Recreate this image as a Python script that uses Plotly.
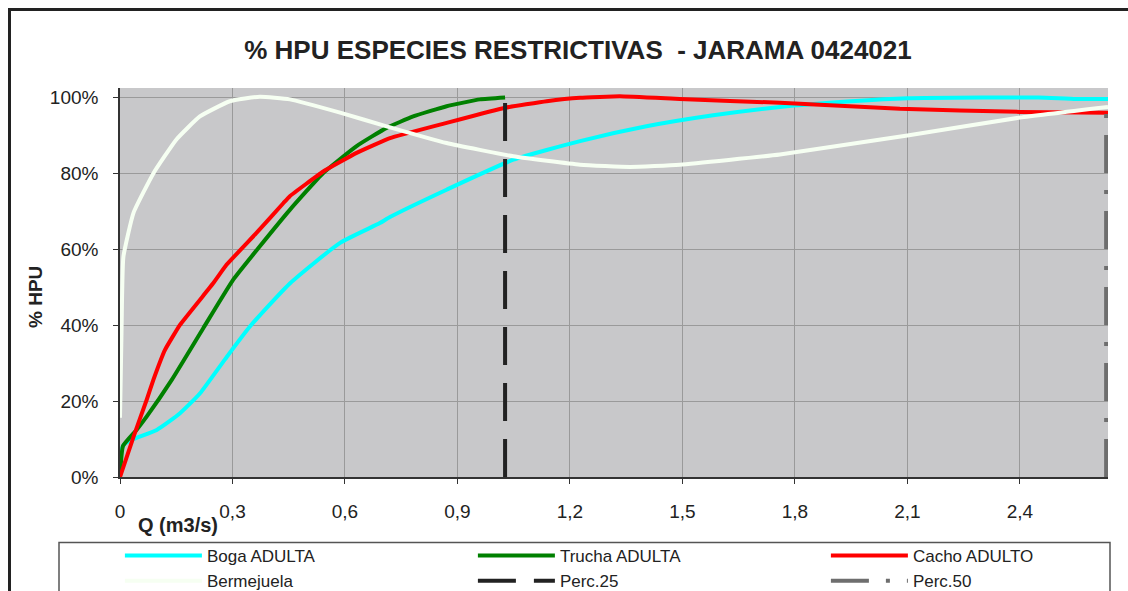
import plotly.graph_objects as go

# ---- data ----
boga_q = [0, 0.01, 0.036, 0.098, 0.16, 0.213, 0.28, 0.347, 0.453, 0.587, 0.693, 0.72, 0.871, 1.049, 1.227, 1.404, 1.582, 1.76, 1.95, 2.1, 2.3, 2.45, 2.55, 2.635]
boga_hpu = [6, 8.5, 10, 12.4, 16.8, 22, 31, 39.7, 51, 61.7, 66.9, 68.5, 75.7, 83.6, 88.5, 92.4, 95.3, 97.5, 99, 99.8, 100, 100, 99.6, 99.6]

trucha_q = [0, 0.008, 0.044, 0.071, 0.138, 0.222, 0.302, 0.373, 0.453, 0.542, 0.631, 0.711, 0.782, 0.871, 0.96, 1.027]
trucha_hpu = [0, 8.2, 12.4, 15.9, 25.6, 39.2, 52, 60.8, 70.4, 80.1, 87.2, 92, 95, 97.7, 99.5, 100]

cacho_q = [0, 0.036, 0.071, 0.089, 0.12, 0.16, 0.249, 0.284, 0.364, 0.436, 0.453, 0.542, 0.631, 0.72, 0.871, 1.027, 1.138, 1.227, 1.333, 1.493, 1.76, 2.08, 2.4, 2.635]
cacho_hpu = [0, 10.6, 20.3, 25.6, 33.5, 40.1, 51.1, 55.9, 64.3, 72.2, 74, 80.5, 85.4, 89.3, 93.3, 97.3, 99, 99.9, 100.3, 99.6, 98.6, 97, 96.2, 96]

bermejuela_q = [0, 0.004, 0.009, 0.036, 0.089, 0.151, 0.213, 0.293, 0.373, 0.453, 0.587, 0.711, 0.871, 1.049, 1.227, 1.36, 1.493, 1.76, 2.1, 2.4, 2.635]
bermejuela_hpu = [15.6, 38, 58, 69.6, 80, 89, 95, 99, 100.2, 99.5, 96, 92.4, 88, 84.5, 82.3, 81.7, 82.3, 85, 90, 94.7, 97.5]

perc25_q = [1.027, 1.027]
perc50_q = [2.63, 2.63]
perc_hpu = [0, 100]

x_tickvals = [0, 0.3, 0.6, 0.9, 1.2, 1.5, 1.8, 2.1, 2.4]
x_ticktext = ["0", "0,3", "0,6", "0,9", "1,2", "1,5", "1,8", "2,1", "2,4"]
y_tickvals = [0, 20, 40, 60, 80, 100]
y_ticktext = ["0%", "20%", "40%", "60%", "80%", "100%"]

FONT = "Liberation Sans, Arial, sans-serif"
TXT = "#222222"

W, H = 1128, 591
L, R, T, B = 120, 20, 88, 114
PW, PH = W - L - R, H - T - B


def px_x(p):
    return (p - L) / PW


def px_y(p):
    return (H - B - p) / PH


fig = go.Figure()
fig.add_trace(go.Scatter(x=boga_q, y=boga_hpu, name="Boga ADULTA", mode="lines",
                         line=dict(color="#00FFFF", width=4, shape="spline", smoothing=0.5)))
fig.add_trace(go.Scatter(x=trucha_q, y=trucha_hpu, name="Trucha ADULTA", mode="lines",
                         line=dict(color="#008000", width=4, shape="spline", smoothing=0.4)))
fig.add_trace(go.Scatter(x=cacho_q, y=cacho_hpu, name="Cacho ADULTO", mode="lines",
                         line=dict(color="#FF0000", width=4, shape="spline", smoothing=0.3)))
fig.add_trace(go.Scatter(x=bermejuela_q, y=bermejuela_hpu, name="Bermejuela", mode="lines",
                         line=dict(color="#F6FFF2", width=4, shape="spline", smoothing=0.4)))
fig.add_trace(go.Scatter(x=perc25_q, y=perc_hpu, name="Perc.25", mode="lines",
                         line=dict(color="#222222", width=4, dash="38px,18px")))
fig.add_trace(go.Scatter(x=perc50_q, y=perc_hpu, name="Perc.50", mode="lines",
                         line=dict(color="#6E6E6E", width=4, dash="38px,17px,4px,17px")))

fig.update_layout(
    width=W, height=H,
    margin=dict(l=L, r=R, t=T, b=B, autoexpand=False),
    paper_bgcolor="white",
    plot_bgcolor="#C8C8CA",
    font=dict(family=FONT, size=19, color=TXT),
    title=dict(text="<b>% HPU ESPECIES RESTRICTIVAS  - JARAMA 0424021</b>",
               x=578 / W, y=1 - 50 / H, xref="container", yref="container",
               xanchor="center", yanchor="middle",
               font=dict(family=FONT, size=26, color=TXT)),
    showlegend=True,
    legend=dict(orientation="h", x=-0.0001, y=px_y(538), xanchor="left", yanchor="top",
                xref="paper", yref="paper",
                bgcolor="rgba(0,0,0,0)", borderwidth=0,
                font=dict(family=FONT, size=17, color=TXT),
                entrywidth=261, entrywidthmode="pixels", itemwidth=77,
                traceorder="normal"),
    xaxis=dict(range=[0, 2.635], tickvals=x_tickvals, ticktext=x_ticktext,
               showgrid=True, gridcolor="#9A9A9A", gridwidth=1,
               showline=True, linecolor="#333333", linewidth=1.5,
               ticks="outside", ticklen=5, tickcolor="#333333",
               ticklabelstandoff=11, zeroline=False,
               tickfont=dict(family=FONT, size=19, color=TXT)),
    yaxis=dict(range=[0, 102.5], tickvals=y_tickvals, ticktext=y_ticktext,
               showgrid=True, gridcolor="#9A9A9A", gridwidth=1,
               showline=True, linecolor="#333333", linewidth=1.5,
               ticks="outside", ticklen=5, tickcolor="#333333",
               ticklabelstandoff=11, zeroline=False,
               tickfont=dict(family=FONT, size=19, color=TXT)),
    annotations=[
        dict(text="<b>Q (m3/s)</b>", xref="paper", yref="paper",
             x=px_x(136), y=px_y(525), xanchor="left", yanchor="middle",
             showarrow=False, font=dict(family=FONT, size=20, color=TXT)),
        dict(text="<b>% HPU</b>", xref="paper", yref="paper",
             x=px_x(35), y=px_y(297), xanchor="center", yanchor="middle",
             textangle=-90, showarrow=False, font=dict(family=FONT, size=19, color=TXT)),
    ],
    shapes=[
        dict(type="rect", xref="paper", yref="paper",
             x0=px_x(9.5), x1=px_x(1140), y0=px_y(9.5), y1=px_y(610),
             line=dict(color="#222222", width=3), fillcolor="rgba(0,0,0,0)", layer="above"),
        dict(type="rect", xref="paper", yref="paper",
             x0=px_x(59), x1=px_x(1110), y0=px_y(542.5), y1=px_y(600),
             line=dict(color="#555555", width=1.5), fillcolor="rgba(0,0,0,0)", layer="above"),
    ],
)

fig.write_html("out.html", config={"displayModeBar": False},
               post_script="document.body.style.margin='0px';")
